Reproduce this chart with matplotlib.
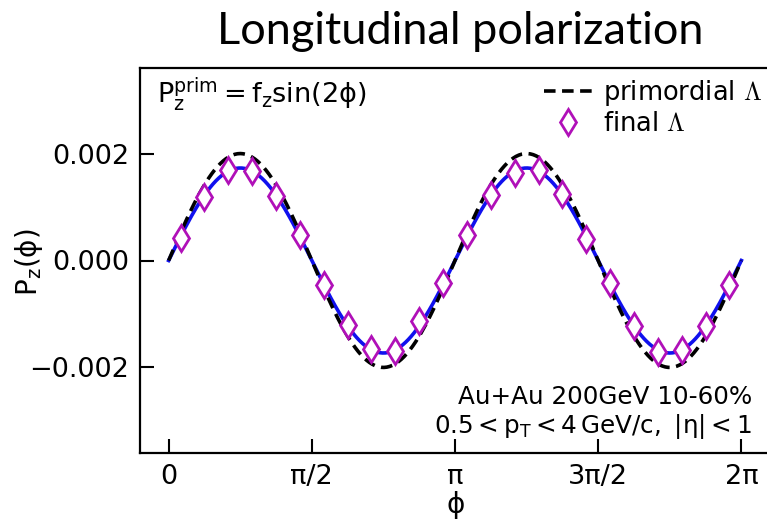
import numpy as np
import matplotlib
matplotlib.use("Agg")
import matplotlib.pyplot as plt

# ---- data ----
n_bins = 24
phi_final = (np.arange(n_bins) + 0.5) * 2 * np.pi / n_bins
pz_final = [0.000417, 0.00118, 0.00170, 0.00168, 0.00120, 0.000486,
            -0.000467, -0.00121, -0.00165, -0.00170, -0.00114, -0.000424,
            0.00048, 0.00123, 0.00164, 0.00170, 0.00125, 0.000405,
            -0.000424, -0.00123, -0.00171, -0.00168, -0.00123, -0.000454]
fz_prim = 0.0020      # amplitude of primordial curve
fz_final_fit = 0.00173  # amplitude of fitted final curve

xtick_vals = [0, np.pi / 2, np.pi, 3 * np.pi / 2, 2 * np.pi]
xtick_labels = ["0", "π/2", "π", "3π/2", "2π"]
ytick_vals = [-0.002, 0.0, 0.002]

plt.rcParams['font.family'] = ['DejaVu Sans']

W, H = 767, 520
fig = plt.figure(figsize=(W / 100, H / 100), dpi=100)
ax = fig.add_axes([140 / W, 1 - 453 / H, (770 - 140) / W, (453 - 68) / H])

phi = np.linspace(0, 2 * np.pi, 400)
ax.plot(phi, fz_final_fit * np.sin(2 * phi), color="#1010ee", lw=2.6, zorder=2)
ax.plot(phi, fz_prim * np.sin(2 * phi), color="black", lw=2.6, ls=(0, (3.2, 1.8)),
        zorder=3, label=r"primordial $\Lambda$")
ax.plot(phi_final, pz_final, ls="none", marker="d", ms=13, mew=2.0,
        mfc="white", mec="#b010b8", zorder=4, label=r"final $\Lambda$")

ax.set_xlim(-0.1 * np.pi, 2.1 * np.pi)
ax.set_ylim(-0.0036, 0.0036)
ax.set_xticks(xtick_vals)
ax.set_xticklabels(xtick_labels)
ax.set_yticks(ytick_vals)
ax.set_yticklabels(["\u22120.002", "0.000", "0.002"])
ax.tick_params(direction="in", length=10, width=1.5, labelsize=19.5, pad=8)
for s in ax.spines.values():
    s.set_linewidth(1.6)

ax.set_xlabel(r"$\mathrm{\phi}$", fontsize=20)
ax.set_ylabel(r"$\mathrm{P_z(\phi)}$", fontsize=20)
ax.xaxis.set_label_coords((455 - 140) / 630, -(505 - 453) / 385)
ax.yaxis.set_label_coords(-(140 - 29) / 630, (453 - 262) / 385)
ax.xaxis.label.set_va("center")
ax.yaxis.label.set_va("center")

fig.text(157 / W, 1 - 95 / H, r"$\mathrm{P_z^{prim} = f_z sin(2\phi)}$",
         fontsize=19.5, va="center", ha="left")

fig.text(752 / W, 1 - 404 / H, "Au+Au 200GeV 10-60%", fontsize=17.7,
         ha="right", va="baseline")
fig.text(752 / W, 1 - 433 / H, r"$\mathrm{0.5 < p_T < 4\,GeV/c,\ |\eta| < 1}$",
         fontsize=17.7, ha="right", va="baseline")

leg = ax.legend(loc="upper right", bbox_to_anchor=(762 / W, 1 - 78 / H),
                bbox_transform=fig.transFigure, frameon=False,
                fontsize=18.5, handlelength=1.9, handletextpad=0.4,
                labelspacing=0.12, borderaxespad=0.0, borderpad=0.0)
for t in leg.get_texts():
    t.set_math_fontfamily("cm")

fig.text(460 / W, 1 - 32 / H, "Longitudinal polarization", fontsize=32.5,
         family=["Lato", "DejaVu Sans"], ha="center", va="center")

fig.savefig("out.png", dpi=100)
